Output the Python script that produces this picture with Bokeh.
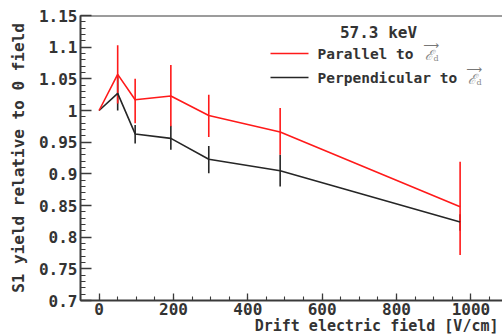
from bokeh.plotting import figure
from bokeh.models import (FixedTicker, Whisker, ColumnDataSource, Label, Span, Range1d, Title)
from bokeh.embed import file_html
from bokeh.resources import INLINE
import numpy as np

# ---- data ----
field = [0, 50, 97, 193, 295, 487, 971]
par = [1.000, 1.057, 1.017, 1.023, 0.992, 0.966, 0.848]
par_up = [1.000, 1.103, 1.050, 1.072, 1.025, 1.004, 0.919]
par_lo = [1.000, 1.011, 0.980, 0.975, 0.958, 0.930, 0.772]
perp = [1.000, 1.027, 0.963, 0.956, 0.923, 0.905, 0.824]
perp_up = [1.000, 1.055, 0.977, 0.976, 0.944, 0.930, 0.836]
perp_lo = [1.000, 1.000, 0.948, 0.938, 0.901, 0.880, 0.810]

x_ticks = [0, 200, 400, 600, 800, 1000]
y_ticks = [0.7, 0.75, 0.8, 0.85, 0.9, 0.95, 1.0, 1.05, 1.1, 1.15]
y_tick_labels = ["0.7", "0.75", "0.8", "0.85", "0.9", "0.95", "1", "1.05", "1.1", "1.15"]
title_text = "57.3 keV"
legend_labels = ["Parallel to", "Perpendicular to"]
x_title = "Drift electric field [V/cm]"
y_title = "S1 yield relative to 0 field"

FONT = "DejaVu Sans Mono"
RED = "#ff1a1a"
BLK = "#262626"
AX = "#3a3a3a"
TXT = "#333333"

X0, X1 = -50, 1085
Y0, Y1 = 0.7, 1.15
W, H = 502, 334
BL, BT = 80, 15
BB = H - BT - 285

p = figure(width=W, height=H, output_backend="svg", toolbar_location=None,
           x_range=Range1d(X0, X1), y_range=Range1d(Y0, Y1),
           min_border_left=BL, min_border_right=0, min_border_top=BT,
           min_border_bottom=BB)
p.grid.visible = False
p.outline_line_color = None
p.background_fill_color = "white"

# picture px -> data helpers for annotation placement
def dx(px):
    return X0 + (px - 80) * (X1 - X0) / 422.0

def dy(py):
    return Y0 + (300 - py) * (Y1 - Y0) / 285.0

# axes styling
xa = p.xaxis[0]
ya = p.yaxis[0]
xa.ticker = FixedTicker(ticks=x_ticks, minor_ticks=list(np.arange(-50, 1101, 50)))
ya.ticker = FixedTicker(ticks=y_ticks, minor_ticks=list(np.round(np.arange(0.70, 1.1501, 0.01), 3)))
ya.major_label_overrides = {t: l for t, l in zip(y_ticks, y_tick_labels)}
for ax in (xa, ya):
    ax.axis_line_color = AX
    ax.axis_line_width = 2
    ax.major_tick_line_color = AX
    ax.minor_tick_line_color = AX
    ax.major_tick_line_width = 1.3
    ax.minor_tick_line_width = 1.1
    ax.major_tick_out = 0
    ax.minor_tick_out = 0
    ax.major_label_text_font = FONT
    ax.major_label_text_font_style = "bold"
    ax.major_label_text_font_size = "16px"
    ax.major_label_text_color = TXT
    ax.axis_label_text_font = FONT
    ax.axis_label_text_font_style = "bold"
    ax.axis_label_text_color = TXT
xa.major_tick_in = 7
xa.minor_tick_in = 4
ya.major_tick_in = 11
ya.minor_tick_in = 5
xa.major_label_standoff = 2
ya.major_label_standoff = 3

ya.axis_label = y_title
ya.axis_label_text_font_size = "16px"
ya.axis_label_standoff = 8

# x axis title, right-aligned below the axis (ROOT style)
p.add_layout(Title(text=x_title, align="right", text_font=FONT,
                   text_font_style="bold", text_font_size="15px",
                   text_color=TXT, standoff=-5, offset=4), "below")

# top frame line
p.add_layout(Span(location=Y1, dimension="width", line_color=AX, line_width=2))

# data
src_perp = ColumnDataSource(dict(x=field, y=perp, up=perp_up, lo=perp_lo))
src_par = ColumnDataSource(dict(x=field, y=par, up=par_up, lo=par_lo))

p.add_layout(Whisker(source=src_perp, base="x", upper="up", lower="lo",
                     line_color=BLK, line_width=1.6,
                     upper_head=None, lower_head=None))
p.line("x", "y", source=src_perp, line_color=BLK, line_width=1.6)

p.add_layout(Whisker(source=src_par, base="x", upper="up", lower="lo",
                     line_color=RED, line_width=1.6,
                     upper_head=None, lower_head=None))
p.line("x", "y", source=src_par, line_color=RED, line_width=1.6)

# legend (ROOT style, no box)
p.add_layout(Label(x=dx(378), y=dy(32), text=title_text, text_font=FONT,
                   text_font_style="bold", text_font_size="16px", text_color=TXT,
                   text_align="center", text_baseline="middle"))

rows = [(53, RED, legend_labels[0], 424), (77, BLK, legend_labels[1], 467)]
for py, col, lab, ex in rows:
    p.segment(x0=[dx(270)], y0=[dy(py)], x1=[dx(308)], y1=[dy(py)],
              line_color=col, line_width=1.6)
    p.add_layout(Label(x=dx(317), y=dy(py), text=lab, text_font=FONT,
                       text_font_style="bold", text_font_size="14.5px", text_color=TXT,
                       text_align="left", text_baseline="middle"))
    p.add_layout(Label(x=dx(ex), y=dy(py + 1), text="ℰ", text_font="DejaVu Serif",
                       text_font_style="italic", text_font_size="14px", text_color="#888888",
                       text_align="left", text_baseline="middle"))
    p.add_layout(Label(x=dx(ex - 1), y=dy(py - 8), text="⟶", text_font="DejaVu Sans",
                       text_font_size="11px", text_color="#777777",
                       text_align="left", text_baseline="middle"))
    p.add_layout(Label(x=dx(ex + 9), y=dy(py + 5), text="d", text_font="DejaVu Serif",
                       text_font_size="8px", text_color="#888888",
                       text_align="left", text_baseline="middle"))

open("out.html", "w").write(file_html(p, INLINE))
